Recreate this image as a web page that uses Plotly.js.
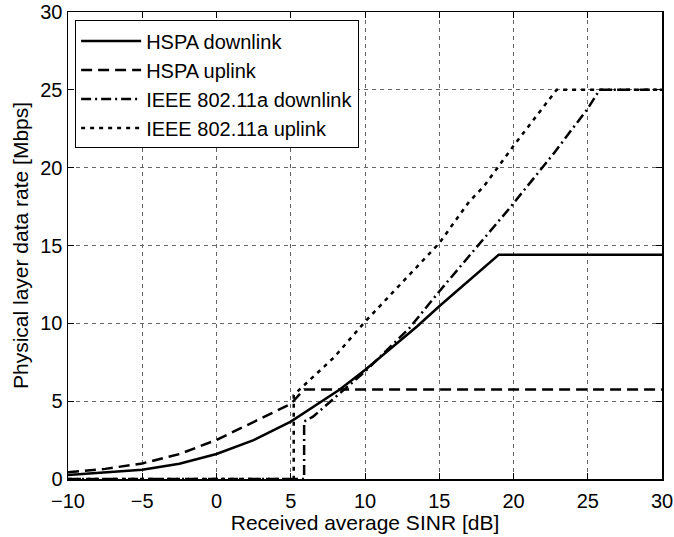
<!DOCTYPE html>
<html>
<head>
<meta charset="utf-8">
<script src="https://cdn.plot.ly/plotly-3.0.1.min.js"></script>
<style>html,body{margin:0;padding:0;background:#fff;}#chart{width:674px;height:537px;}</style>
</head>
<body>
<div id="chart"></div>
<script>
// HSPA downlink
const hspaDlSinr = [-10, -7.5, -5, -2.5, 0, 2.5, 5, 8.3, 10, 13.5, 15, 19, 30];
const hspaDlRate = [0.26, 0.42, 0.6, 0.98, 1.61, 2.5, 3.69, 5.75, 7.0, 9.8, 11.1, 14.4, 14.4];
// HSPA uplink
const hspaUlSinr = [-10, -7.5, -5, -2.5, 0, 2.5, 5, 5.9, 30];
const hspaUlRate = [0.43, 0.65, 1.0, 1.6, 2.51, 3.65, 4.82, 5.75, 5.75];
// IEEE 802.11a downlink
const wifiDlSinr = [-10, 5.9, 5.9, 6.5, 8.3, 10, 13, 15, 19.65, 22.7, 25, 25.8, 30];
const wifiDlRate = [0, 0, 3.7, 4.0, 5.5, 6.9, 9.7, 12.05, 17.3, 20.9, 23.8, 25, 25];
// IEEE 802.11a uplink
const wifiUlSinr = [-10, 5.2, 5.2, 7.9, 10, 15, 17, 18, 20, 22.9, 30];
const wifiUlRate = [0, 0, 5.4, 7.8, 10.1, 15.15, 17.8, 18.8, 21.4, 25, 25];

const seriesNames = ['HSPA downlink', 'HSPA uplink', 'IEEE 802.11a downlink', 'IEEE 802.11a uplink'];
const xTicks = [-10, -5, 0, 5, 10, 15, 20, 25, 30];
const yTicks = [0, 5, 10, 15, 20, 25, 30];

const FONT = 'Liberation Sans, Arial, Helvetica, sans-serif';
const lw = 2.5;

const traces = [
  {x: hspaDlSinr, y: hspaDlRate, name: seriesNames[0], mode: 'lines', line: {color: '#000', width: lw, dash: 'solid'}},
  {x: hspaUlSinr, y: hspaUlRate, name: seriesNames[1], mode: 'lines', line: {color: '#000', width: lw, dash: '11px,6px'}},
  {x: wifiDlSinr, y: wifiDlRate, name: seriesNames[2], mode: 'lines', line: {color: '#000', width: lw, dash: '10px,4px,2px,4px'}},
  {x: wifiUlSinr, y: wifiUlRate, name: seriesNames[3], mode: 'lines', line: {color: '#000', width: lw, dash: '4px,5px'}}
];

const axisCommon = {
  showline: true, linecolor: '#000', linewidth: 1.5, mirror: 'ticks',
  ticks: 'inside', ticklen: 6, tickcolor: '#000', tickwidth: 1,
  showgrid: true, gridcolor: '#666', gridwidth: 1, griddash: '4px,4px',
  zeroline: false, tickfont: {family: FONT, size: 20, color: '#000'}
};

const layout = {
  width: 674, height: 537,
  margin: {l: 68, r: 12, t: 12, b: 58, pad: 0},
  paper_bgcolor: '#fff', plot_bgcolor: '#fff',
  showlegend: true,
  legend: {
    x: 0.012, y: 0.982, xanchor: 'left', yanchor: 'top',
    bgcolor: '#fff', bordercolor: '#000', borderwidth: 1,
    font: {family: FONT, size: 20, color: '#000'},
    itemwidth: 60, tracegroupgap: 0
  },
  xaxis: Object.assign({}, axisCommon, {
    range: [-10, 30], tickvals: xTicks, ticklabelstandoff: 3,
    title: {text: 'Received average SINR [dB]', font: {family: FONT, size: 21, color: '#000'}, standoff: 2}
  }),
  yaxis: Object.assign({}, axisCommon, {
    range: [0, 30], tickvals: yTicks,
    title: {text: 'Physical layer data rate [Mbps]', font: {family: FONT, size: 21, color: '#000'}, standoff: 6}
  })
};

Plotly.newPlot('chart', traces, layout, {staticPlot: true, displayModeBar: false});
</script>
</body>
</html>
